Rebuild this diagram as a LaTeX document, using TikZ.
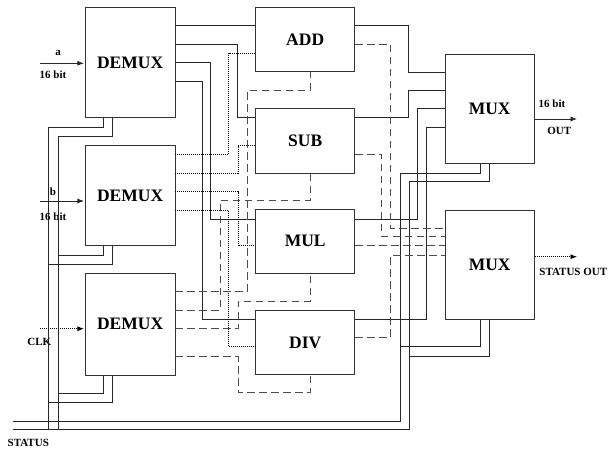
\documentclass[tikz,border=0pt]{standalone}
\usepackage{fontspec}
\setmainfont{Liberation Serif}
\usetikzlibrary{arrows.meta}
\begin{document}
\begin{tikzpicture}[x=1pt,y=-1pt,
  box/.style={draw=black!80, line width=0.8pt, inner sep=0pt, font=\bfseries\fontsize{17.5}{20}\selectfont},
  wire/.style={draw=black!85, line width=0.7pt},
  dotw/.style={wire, draw=black, dash pattern=on 1pt off 1pt},
  dashw/.style={wire, draw=black!70, line width=1pt, dash pattern=on 7.5pt off 4.5pt},
  lbl/.style={font=\bfseries\fontsize{11}{13}\selectfont, inner sep=0pt},
  tip/.style={-{Latex[length=6.5pt,width=5pt]}}]
\useasboundingbox (0,0) rectangle (609,448);
% boxes
\node[box, minimum width=89.7pt, minimum height=110pt] (D1) at (130.15,62.7) {DEMUX};
\node[box, minimum width=89.7pt, minimum height=100pt] (D2) at (130.15,195.7) {DEMUX};
\node[box, minimum width=89.7pt, minimum height=101.7pt] (D3) at (130.15,324.15) {DEMUX};
\node[box, minimum width=99pt, minimum height=64pt] (ADD) at (305.2,39.7) {ADD};
\node[box, minimum width=99pt, minimum height=65pt] (SUB) at (305.2,140.8) {SUB};
\node[box, minimum width=99pt, minimum height=64pt] (MUL) at (305.2,241.3) {MUL};
\node[box, minimum width=99pt, minimum height=64pt] (DIV) at (305.2,342.7) {DIV};
\node[box, minimum width=89.3pt, minimum height=109.3pt] (MX1) at (489.65,108.65) {MUX};
\node[box, minimum width=89.3pt, minimum height=109.3pt] (MX2) at (489.65,264.65) {MUX};
% inputs
\coordinate (ina) at (40,63.3);
\coordinate (inb) at (40,201);
\coordinate (inc) at (40,328.7);
\draw[wire,tip] (ina) -- ([xshift=-1pt]D1.west |- ina);
\draw[wire,tip] (inb) -- ([xshift=-1pt]D2.west |- inb);
\draw[dotw,tip] (inc) -- ([xshift=-1pt]D3.west |- inc);
\node[lbl] (la) at (58,53) {a};
\node[lbl] (la2) at (53,75) {16 bit};
\node[lbl] (lb) at (53,191.7) {b};
\node[lbl] (lb2) at (53,217) {16 bit};
\node[lbl] (lc) at (39.3,341.7) {CLK};
% D1 outputs (solid)
\draw[wire] (D1.east |- 0,25.7) -- (ADD.west |- 0,25.7);
\draw[wire] (D1.east |- 0,44) -- (237.7,44) -- (237.7,117.7) -- (SUB.west |- 0,117.7);
\draw[wire] (D1.east |- 0,62.3) -- (210.7,62.3) -- (210.7,219.5) -- (MUL.west |- 0,219.5);
\draw[wire] (D1.east |- 0,81) -- (202.3,81) -- (202.3,319) -- (DIV.west |- 0,319);
% D2 outputs (dotted)
\draw[dotw] (D2.east |- 0,154.3) -- (228.7,154.3) -- (228.7,53.3) -- (ADD.west |- 0,53.3);
\draw[dotw] (D2.east |- 0,173.3) -- (238,173.3) -- (238,145.7) -- (SUB.west |- 0,145.7);
\draw[dotw] (D2.east |- 0,191.7) -- (238,191.7) -- (238,245.7) -- (MUL.west |- 0,245.7);
\draw[dotw] (D2.east |- 0,210) -- (228.7,210) -- (228.7,346.7) -- (DIV.west |- 0,346.7);
% D3 outputs (dashed)
\draw[dashw] (D3.east |- 0,291.7) -- (247.3,291.7) -- (247.3,90) -- (310,90) -- (ADD.south -| 310,0);
\draw[dashw] (D3.east |- 0,310.7) -- (220,310.7) -- (220,200) -- (310,200) -- (SUB.south -| 310,0);
\draw[dashw] (D3.east |- 0,328.7) -- (238,328.7) -- (238,301) -- (310,301) -- (MUL.south -| 310,0);
\draw[dashw] (D3.east |- 0,356.7) -- (238,356.7) -- (238,392.7) -- (310,392.7) -- (DIV.south -| 310,0);
% DEMUX bottoms to status bus
\draw[wire] (D1.south -| 103.3,0) -- (103.3,127.3) -- (48.7,127.3) -- (48.7,429.3);
\draw[wire] (D1.south -| 112.3,0) -- (112.3,136) -- (58.3,136) -- (58.3,429.3);
\draw[wire] (D2.south -| 103.3,0) -- (103.3,255) -- (58.3,255);
\draw[wire] (D2.south -| 112.3,0) -- (112.3,264.3) -- (48.7,264.3);
\draw[wire] (D3.south -| 103.3,0) -- (103.3,393.3) -- (58.3,393.3);
\draw[wire] (D3.south -| 112.3,0) -- (112.3,402.7) -- (48.7,402.7);
% STATUS bus
\coordinate (st1) at (12.7,421);
\coordinate (st2) at (12.7,429.3);
\draw[wire] (st1) -- (400,421) -- (400,346.7) -- (480,346.7) -- (MX2.south -| 480,0);
\draw[wire] (st2) -- (409,429.3) -- (409,356) -- (489.3,356) -- (MX2.south -| 489.3,0);
\draw[wire] (400,346.7) -- (400,173.3) -- (480,173.3) -- (MX1.south -| 480,0);
\draw[wire] (409,356) -- (409,181.7) -- (489.3,181.7) -- (MX1.south -| 489.3,0);
\node[lbl] (lst) at (28.3,442.7) {STATUS};
% operator results (solid)
\draw[wire] (ADD.east |- 0,25.7) -- (408.3,25.7) -- (408.3,72.3) -- (MX1.west |- 0,72.3);
\draw[wire] (SUB.east |- 0,117.7) -- (408.3,117.7) -- (408.3,90.7) -- (MX1.west |- 0,90.7);
\draw[wire] (MUL.east |- 0,219) -- (417.7,219) -- (417.7,108.3) -- (MX1.west |- 0,108.3);
\draw[wire] (DIV.east |- 0,319) -- (426.7,319) -- (426.7,127.3) -- (MX1.west |- 0,127.3);
% operator status (dashed)
\draw[dashw] (ADD.east |- 0,44) -- (390.3,44) -- (390.3,228) -- (MX2.west |- 0,228);
\draw[dashw] (SUB.east |- 0,154.3) -- (381.7,154.3) -- (381.7,236.7) -- (MX2.west |- 0,236.7);
\draw[dashw] (MUL.east |- 0,245.7) -- (MX2.west |- 0,245.7);
\draw[dashw] (DIV.east |- 0,337.5) -- (390.3,337.5) -- (390.3,255.7) -- (MX2.west |- 0,255.7);
% outputs
\coordinate (out1) at (577,119);
\coordinate (out2) at (577,256.7);
\draw[wire,tip] (MX1.east |- out1) -- (out1);
\draw[dotw,tip] (MX2.east |- out2) -- (out2);
\node[lbl] (lo1) at (552,103.3) {16 bit};
\node[lbl] (lo2) at (559.3,130.7) {OUT};
\node[lbl] (lo3) at (573.3,272.3) {STATUS OUT};
\end{tikzpicture}
\end{document}
